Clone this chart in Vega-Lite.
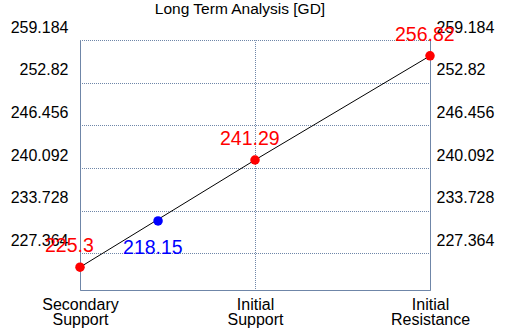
{
  "$schema": "https://vega.github.io/schema/vega-lite/v6.json",
  "width": 350,
  "height": 250,
  "autosize": {"type": "none"},
  "padding": {"left": 80, "top": 40, "right": 80, "bottom": 40},
  "background": "white",
  "title": {"text": "Long Term Analysis [GD]", "font": "Liberation Sans", "fontSize": 15.5, "fontWeight": "normal", "color": "black", "frame": "group", "anchor": "middle", "dx": -15, "offset": 2},
  "datasets": {
    "levels": [
      {"level": "Secondary Support", "pos": 0, "price": 225.3},
      {"level": "Initial Support", "pos": 1, "price": 241.29},
      {"level": "Initial Resistance", "pos": 2, "price": 256.82}
    ],
    "current": [
      {"level": "Current Price", "pos": 0.446, "plotted": 232.2, "price": 218.15}
    ]
  },
  "config": {
    "view": {"stroke": null},
    "axis": {
      "labelFont": "Liberation Sans",
      "labelFontSize": 16,
      "labelColor": "black",
      "domainColor": "#6f86a8",
      "domainWidth": 1,
      "gridColor": "#6f86a8",
      "gridDash": [1, 1],
      "gridDashOffset": 0.5,
      "gridWidth": 1,
      "gridOpacity": 1,
      "ticks": false,
      "tickSize": 0,
      "title": null,
      "labelOverlap": false,
      "labelBound": false,
      "labelFlush": false
    }
  },
  "resolve": {"axis": {"y": "independent"}},
  "layer": [
    {
      "data": {"name": "levels"},
      "mark": {"type": "line", "color": "black", "strokeWidth": 1},
      "encoding": {
        "x": {
          "field": "pos", "type": "quantitative",
          "scale": {"domain": [0, 2], "nice": false, "zero": false},
          "axis": {
            "values": [0, 1, 2],
            "grid": true,
            "labelPadding": 6,
            "labelLineHeight": 15,
            "labelAlign": "center",
            "labelExpr": "datum.value == 0 ? ['Secondary', 'Support'] : datum.value == 1 ? ['Initial', 'Support'] : ['Initial', 'Resistance']"
          }
        },
        "y": {
          "field": "price", "type": "quantitative",
          "scale": {"domain": [221.9, 259.184], "nice": false, "zero": false},
          "axis": {
            "orient": "left",
            "values": [227.364, 233.728, 240.092, 246.456, 252.82, 259.184],
            "format": ".3~f",
            "grid": true,
            "labelPadding": 12,
            "labelOffset": -13
          }
        }
      }
    },
    {
      "data": {"name": "levels"},
      "mark": {"type": "circle", "color": "#ff0000", "opacity": 1, "size": 90},
      "encoding": {
        "x": {"field": "pos", "type": "quantitative"},
        "y": {
          "field": "price", "type": "quantitative",
          "axis": {
            "orient": "right",
            "values": [227.364, 233.728, 240.092, 246.456, 252.82, 259.184],
            "format": ".3~f",
            "grid": false,
            "labelPadding": 6,
            "labelOffset": -13
          }
        }
      }
    },
    {
      "data": {"name": "levels"},
      "mark": {"type": "text", "color": "#ff0000", "font": "Liberation Sans", "fontSize": 19.5, "align": "left", "baseline": "middle", "dx": -35, "dy": -21},
      "encoding": {
        "x": {"field": "pos", "type": "quantitative"},
        "y": {"field": "price", "type": "quantitative", "axis": null},
        "text": {"field": "price", "type": "nominal"}
      }
    },
    {
      "data": {"name": "current"},
      "mark": {"type": "circle", "color": "#0000ff", "opacity": 1, "size": 90},
      "encoding": {
        "x": {"field": "pos", "type": "quantitative"},
        "y": {"field": "plotted", "type": "quantitative", "axis": null}
      }
    },
    {
      "data": {"name": "current"},
      "mark": {"type": "text", "color": "#0000ff", "font": "Liberation Sans", "fontSize": 19.5, "align": "left", "baseline": "middle", "dx": -35, "dy": 27},
      "encoding": {
        "x": {"field": "pos", "type": "quantitative"},
        "y": {"field": "plotted", "type": "quantitative", "axis": null},
        "text": {"field": "price", "type": "nominal"}
      }
    }
  ]
}
